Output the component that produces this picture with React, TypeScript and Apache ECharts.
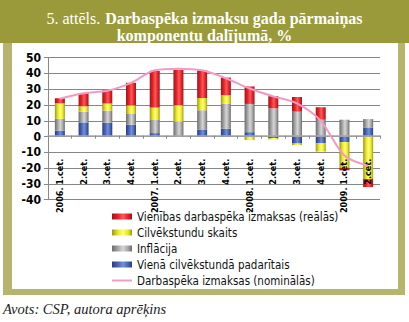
import React, { useEffect, useRef } from "react";
import * as echarts from "echarts";

const categories = [
  "2006. 1.cet.", "2.cet.", "3.cet.", "4.cet.",
  "2007. 1.cet.", "2.cet.", "3.cet.", "4.cet.",
  "2008. 1.cet.", "2.cet.", "3.cet.", "4.cet.",
  "2009. 1.cet.", "2.cet.",
];
const productivity = [3.8, 9, 8.8, 7.5, 2.2, 0, 4.5, 4.9, 2.8, -1, -4.4, -4.3, -3.5, 5.8];
const inflation = [7.5, 6.8, 7.7, 7.2, 8.3, 9.4, 12.2, 15.8, 17.9, 17.9, 15.8, 10.7, 10.7, 5.3];
const hours = [9.8, 3.4, 4.5, 5.1, 7.9, 10.5, 7.7, 5.5, -2.2, -0.8, -1, -5.2, -16.3, -26.9];
const realCost = [3.2, 8.3, 8.3, 14.3, 23.3, 22.4, 17.5, 11.2, 11.1, 7.7, 9.3, 7.9, -1.6, -5.1];
const nominalCost = [24, 27.5, 29, 34, 42, 43, 42, 37, 30.5, 25.5, 21, 10, -12, -18.5];
const yTicks = { min: -40, max: 50, interval: 10 };

const names = {
  real: "Vienības darbaspēka izmaksas (reālās)",
  hours: "Cilvēkstundu skaits",
  infl: "Inflācija",
  prod: "Vienā cilvēkstundā padarītais",
  nom: "Darbaspēka izmaksas (nominālās)",
};

const grad = (edge: string, mid: string, light: string) =>
  new echarts.graphic.LinearGradient(0, 0, 1, 0, [
    { offset: 0, color: edge },
    { offset: 0.3, color: mid },
    { offset: 0.55, color: light },
    { offset: 0.8, color: mid },
    { offset: 1, color: edge },
  ]);

const NARROW = "'DejaVu Sans Condensed', 'Liberation Sans Narrow', sans-serif";
const SERIF = "'Liberation Serif', 'DejaVu Serif', serif";

export default function App() {
  const ref = useRef<HTMLDivElement>(null);
  useEffect(() => {
    if (!ref.current) return;
    const chart = echarts.init(ref.current, undefined, { renderer: "svg" });
    const barBase = { type: "bar", stack: "total", barWidth: 10 };
    chart.setOption({
      animation: false,
      title: {
        text: "{a|5. attēls.} {b|Darbaspēka izmaksu gada pārmaiņas}\n{b|komponentu dalījumā, %}",
        left: "center",
        top: 4,
        textStyle: {
          rich: {
            a: { fontFamily: SERIF, fontSize: 16, color: "#ffffff", fontWeight: "normal", lineHeight: 17, align: "center" },
            b: { fontFamily: SERIF, fontSize: 16, color: "#ffffff", fontWeight: "bold", lineHeight: 17, align: "center" },
          },
        },
      },
      graphic: [
        { type: "rect", z: 0, silent: true, shape: { x: 0, y: 0, width: 409, height: 43 }, style: { fill: "#9b9a3b" } },
        { type: "rect", z: 0, silent: true, shape: { x: 3, y: 43, width: 9, height: 252 }, style: { fill: "#b7b46e" } },
        { type: "rect", z: 0, silent: true, shape: { x: 398, y: 43, width: 7, height: 252 }, style: { fill: "#b7b46e" } },
        { type: "rect", z: 0, silent: true, shape: { x: 3, y: 289, width: 402, height: 6 }, style: { fill: "#b7b46e" } },
        {
          type: "text", left: 3, top: 301,
          style: { text: "Avots: CSP, autora aprēķins", fontFamily: SERIF, fontStyle: "italic", fontSize: 14.5, fill: "#222" },
        },
      ],
      legend: {
        orient: "vertical",
        left: 106,
        top: 205,
        itemWidth: 20,
        itemHeight: 6,
        itemGap: 3,
        textStyle: { fontFamily: NARROW, fontSize: 11.5, color: "#111", lineHeight: 13 },
        data: [
          { name: names.real, icon: "rect" },
          { name: names.hours, icon: "rect" },
          { name: names.infl, icon: "rect" },
          { name: names.prod, icon: "rect" },
          { name: names.nom, itemStyle: { opacity: 0 } },
        ],
      },
      grid: { left: 48, right: 29, top: 57.7, bottom: 122.3, containLabel: false },
      xAxis: {
        type: "category",
        data: categories,
        z: 5,
        offset: -64,
        axisLine: { onZero: false, lineStyle: { color: "#a8a8a8", width: 1.5 } },
        axisTick: { show: true, length: 3, lineStyle: { color: "#888" } },
        axisLabel: {
          rotate: 90,
          margin: 23,
          interval: 0,
          fontFamily: NARROW,
          fontWeight: "bold",
          fontSize: 9,
          color: "#000",
        },
      },
      yAxis: {
        type: "value",
        min: yTicks.min,
        max: yTicks.max,
        interval: yTicks.interval,
        axisLine: { show: true, lineStyle: { color: "#888" } },
        axisTick: { show: true, length: 4, lineStyle: { color: "#888" } },
        axisLabel: { fontFamily: NARROW, fontWeight: "bold", fontSize: 12, color: "#000", margin: 7 },
        splitLine: { lineStyle: { color: "#868686", width: 1 } },
      },
      series: [
        { ...barBase, name: names.prod, data: productivity, itemStyle: { color: grad("#2b3d82", "#4765b5", "#7690d6") } },
        { ...barBase, name: names.infl, data: inflation, itemStyle: { color: grad("#6c6c6c", "#a6a6a6", "#d6d6d6") } },
        { ...barBase, name: names.hours, data: hours, itemStyle: { color: grad("#9a9818", "#eae62a", "#ffff70") } },
        { ...barBase, name: names.real, data: realCost, itemStyle: { color: grad("#9a161b", "#e5222a", "#ff5858") } },
        {
          type: "line",
          name: names.nom,
          data: nominalCost,
          smooth: 0.3,
          symbol: "none",
          z: 6,
          lineStyle: { color: "#f29ac4", width: 2 },
          itemStyle: { color: "#f29ac4" },
        },
      ],
    });
    return () => chart.dispose();
  }, []);
  return (
    <div
      ref={ref}
      style={{ position: "absolute", left: 0, top: 0, width: 409, height: 322, background: "#fff" }}
    />
  );
}
